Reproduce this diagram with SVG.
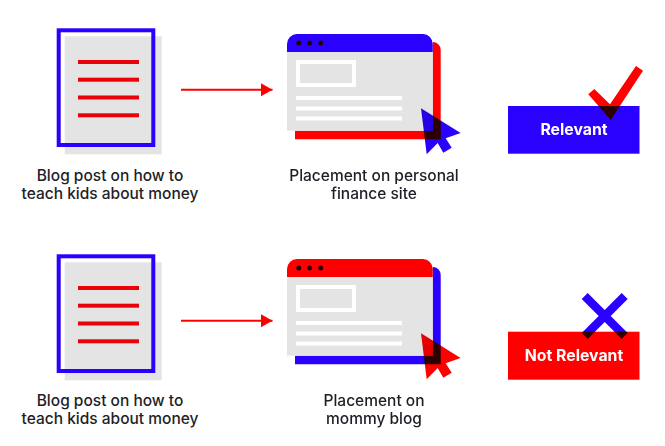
<svg xmlns="http://www.w3.org/2000/svg" width="665" height="446" viewBox="0 0 665 446">
<style>
.cap{font-family:"Inter","Liberation Sans",sans-serif;font-size:15.5px;font-weight:550;fill:#1e1e26;text-anchor:middle}
.lab{font-family:"Inter","Liberation Sans",sans-serif;font-size:15.8px;font-weight:700;fill:#fff;text-anchor:middle}
.g{fill:#e4e4e4}
.m{mix-blend-mode:multiply}
.w{fill:#fff}
</style>
<defs>
<g id="doc">
<rect class="g" x="64.7" y="36.3" width="97" height="118"/>
<rect x="58.7" y="30.3" width="94.6" height="114.7" fill="none" stroke="#2a00ff" stroke-width="4"/>
<g fill="#ea0008"><rect x="78" y="60" width="61" height="4"/><rect x="78" y="77.7" width="61" height="4"/><rect x="78" y="95.5" width="61" height="4"/><rect x="78" y="113.3" width="61" height="4"/></g>
</g>
<path id="win" d="M287 52V44a10 10 0 0 1 10-10H423a10 10 0 0 1 9.7 10V52Z"/>
<path id="shadow" d="M295 130.7H432.7V42a8 8 0 0 1 8 8V139.3H295Z"/>
<g id="body">
<rect class="g" x="287" y="52" width="145.7" height="78.7"/>
<rect x="298" y="62" width="56" height="23" fill="none" stroke="#fff" stroke-width="4"/>
<rect class="w" x="296" y="96" width="106" height="4"/><rect class="w" x="296" y="106.5" width="106" height="4"/><rect class="w" x="296" y="116.5" width="106" height="4"/>
</g>
<polygon id="cursor" points="421,108.3 460.6,133 445.7,138.3 451.7,147.7 443.3,152.7 437.7,143 426.7,154.3"/>
<g id="dots" fill="#2a0000"><circle cx="298.7" cy="43" r="2.5"/><circle cx="309.7" cy="43" r="2.5"/><circle cx="320.7" cy="43" r="2.5"/></g>
<marker id="ah" markerUnits="userSpaceOnUse" markerWidth="12" markerHeight="14" refX="11.5" refY="6.5" orient="auto"><path d="M0 0L11.5 6.5L0 13Z" fill="#f00"/></marker>
</defs>
<g id="connectors">
<line x1="181" y1="89.7" x2="272.5" y2="89.7" stroke="#f00" stroke-width="2" marker-end="url(#ah)"/>
<line x1="181" y1="320.7" x2="272.5" y2="320.7" stroke="#f00" stroke-width="2" marker-end="url(#ah)"/>
</g>
<g id="blog-post-1"><use href="#doc"/>
<text class="cap" x="110" y="180.5">Blog post on how to</text><text class="cap" x="110" y="199.3">teach kids about money</text></g>
<g id="blog-post-2"><use href="#doc" y="226"/>
<text class="cap" x="110" y="405.5">Blog post on how to</text><text class="cap" x="110" y="424.3">teach kids about money</text></g>
<g id="placement-1" style="isolation:isolate">
<use href="#shadow" fill="#f00"/><use href="#body"/><use href="#win" fill="#2a00ff"/><use href="#dots"/>
<use href="#cursor" class="m" fill="#2a00ff"/>
<text class="cap" x="374" y="180.5">Placement on personal</text><text class="cap" x="374" y="199.3">finance site</text></g>
<g id="placement-2" style="isolation:isolate">
<g transform="translate(0 225)"><use href="#shadow" fill="#2a00ff"/><use href="#body"/><use href="#win" fill="#f00"/><use href="#dots"/>
<use href="#cursor" class="m" fill="#f00"/></g>
<text class="cap" x="374" y="405.5">Placement on</text><text class="cap" x="374" y="424.3">mommy blog</text></g>
<g id="relevant" style="isolation:isolate">
<rect x="508" y="106" width="131.5" height="47.7" fill="#2a00ff"/>
<polygon class="m" points="588.3,94.3 594.3,89 610,104.3 636,66 643,70.7 610.7,120" fill="#f00"/>
<text class="lab" x="574" y="135">Relevant</text></g>
<g id="not-relevant" style="isolation:isolate">
<rect x="508" y="331.7" width="131.5" height="48" fill="#f00"/>
<polygon class="m" points="587.7,293 604.7,310 621.7,293 627.7,299 610.7,316 627.7,333 621.7,339 604.7,322 587.7,339 581.7,333 598.7,316 581.7,299" fill="#2a00ff"/>
<text class="lab" x="574" y="361">Not Relevant</text></g>
</svg>
